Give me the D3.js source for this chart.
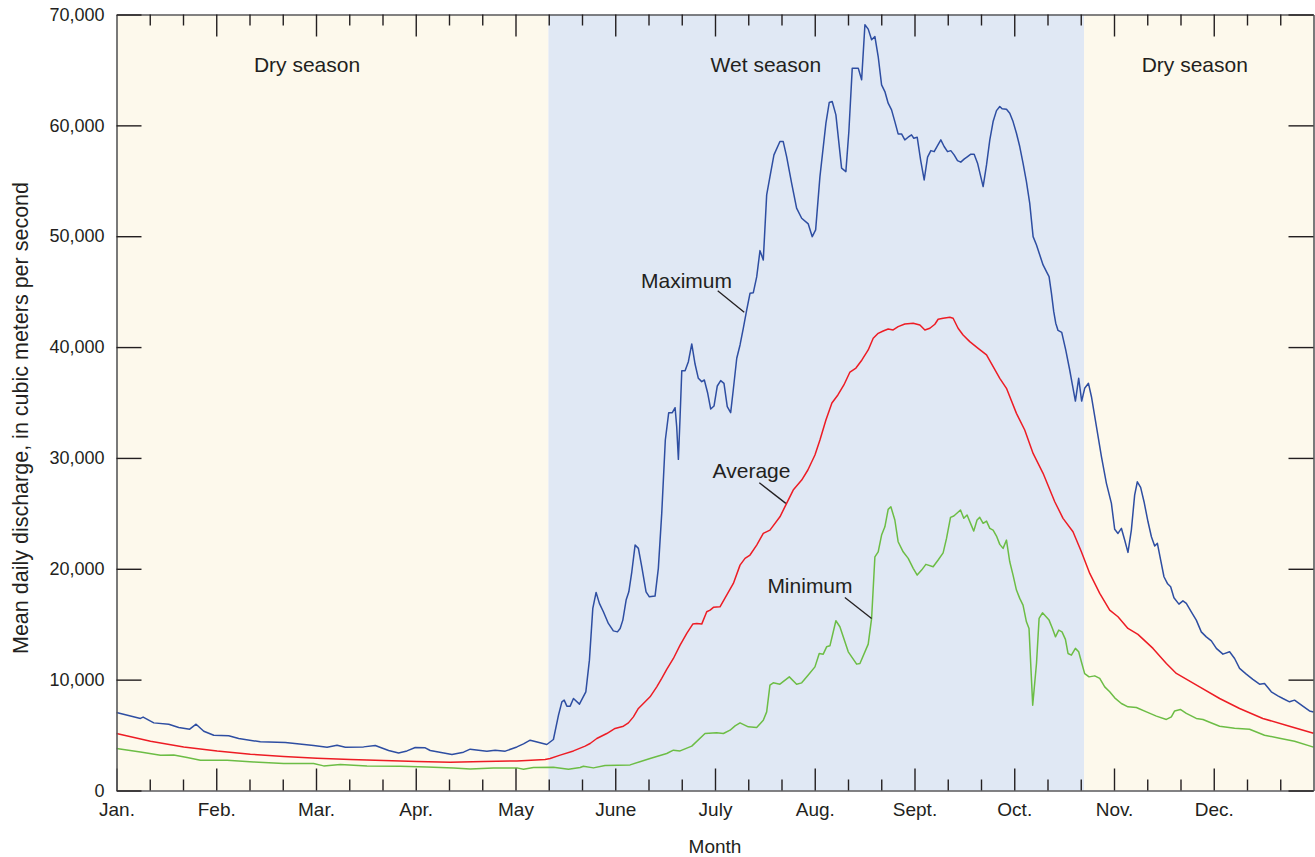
<!DOCTYPE html>
<html><head><meta charset="utf-8">
<script src="https://cdn.jsdelivr.net/npm/d3@7"></script>
<style>
body{margin:0;background:#fff;}
svg text{font-family:"Liberation Sans",Arial,"Helvetica",sans-serif;fill:#231f20;}
</style></head><body>
<svg id="chart" width="1315" height="857"></svg>
<script>
// ---- DATA (x = position in the year, in months from Jan. 1; y = cubic meters per second) ----
const monthLabels = ["Jan.","Feb.","Mar.","Apr.","May","June","July","Aug.","Sept.","Oct.","Nov.","Dec."];
const yTicks = [0,10000,20000,30000,40000,50000,60000,70000];
const seasonNames = ["Dry season","Wet season","Dry season"];
const seasonBounds = [[0,4.33],[4.33,9.70],[9.70,12]];
const seasonLabelAt = [1.91,6.51,10.81];

const maximum = [[0,7040],[0.240,6500],[0.267,6620],[0.374,6100],[0.524,5980],[0.624,5690],[0.734,5530],[0.798,5980],[0.875,5350],[0.975,4990],[1.125,4930],[1.225,4690],[1.442,4390],[1.693,4330],[1.976,4060],[2.111,3910],[2.211,4090],[2.294,3910],[2.477,3935],[2.594,4060],[2.728,3610],[2.828,3390],[2.912,3570],[2.995,3880],[3.095,3850],[3.145,3610],[3.363,3250],[3.479,3460],[3.546,3730],[3.629,3640],[3.713,3550],[3.796,3640],[3.897,3550],[4.014,3930],[4.080,4210],[4.147,4540],[4.197,4420],[4.314,4150],[4.380,4600],[4.431,6800],[4.465,8000],[4.488,8150],[4.515,7610],[4.548,7610],[4.581,8300],[4.641,7790],[4.705,8900],[4.741,11760],[4.775,16430],[4.808,17870],[4.841,16880],[4.881,16120],[4.931,15070],[4.981,14400],[5.022,14310],[5.049,14620],[5.076,15370],[5.109,17180],[5.136,17920],[5.166,19730],[5.199,22140],[5.232,21840],[5.266,20180],[5.309,17920],[5.342,17470],[5.399,17540],[5.432,20040],[5.466,25000],[5.502,31620],[5.536,34080],[5.572,34080],[5.600,34530],[5.616,32820],[5.633,29870],[5.650,33720],[5.667,37870],[5.700,37870],[5.733,38680],[5.767,40280],[5.800,38470],[5.833,37180],[5.867,36880],[5.893,37030],[5.927,35830],[5.957,34410],[5.990,34680],[6.023,36490],[6.057,36970],[6.090,36730],[6.123,34620],[6.157,34080],[6.183,36130],[6.218,38990],[6.251,40190],[6.284,41700],[6.318,43350],[6.351,44850],[6.384,44910],[6.418,46330],[6.451,48700],[6.484,47860],[6.518,53730],[6.551,55380],[6.591,57340],[6.651,58540],[6.684,58540],[6.718,57180],[6.768,54780],[6.818,52530],[6.869,51620],[6.935,51110],[6.975,49960],[7.009,50570],[7.052,55380],[7.112,60200],[7.145,62060],[7.175,62150],[7.212,60950],[7.269,56140],[7.312,55830],[7.342,59440],[7.376,65160],[7.436,65160],[7.470,64110],[7.503,69070],[7.536,68680],[7.570,67720],[7.603,68010],[7.636,66210],[7.670,63650],[7.703,63050],[7.736,62000],[7.770,61400],[7.803,60340],[7.836,59230],[7.870,59230],[7.903,58690],[7.936,58930],[7.970,59140],[7.993,58840],[8.027,58930],[8.061,56890],[8.097,55080],[8.131,57130],[8.164,57720],[8.197,57630],[8.231,58180],[8.264,58690],[8.297,58090],[8.331,57630],[8.364,57720],[8.397,57340],[8.431,56820],[8.464,56680],[8.497,56950],[8.532,57180],[8.565,57400],[8.598,57400],[8.632,56590],[8.688,54480],[8.722,56430],[8.755,58690],[8.788,60340],[8.822,61330],[8.855,61700],[8.878,61490],[8.922,61460],[8.955,61100],[8.988,60340],[9.022,59290],[9.055,58090],[9.088,56590],[9.122,54930],[9.155,52980],[9.189,49960],[9.223,49210],[9.256,48310],[9.289,47410],[9.323,46800],[9.349,46350],[9.373,44850],[9.396,43190],[9.416,42150],[9.439,41500],[9.476,41330],[9.516,39740],[9.556,37930],[9.583,36580],[9.613,35130],[9.646,37180],[9.676,35130],[9.706,36280],[9.744,36730],[9.774,35520],[9.824,32820],[9.874,30110],[9.924,27710],[9.974,25900],[10.007,23560],[10.040,23190],[10.074,23650],[10.107,22590],[10.140,21480],[10.174,23490],[10.207,26650],[10.234,27850],[10.267,27350],[10.301,26050],[10.341,24240],[10.375,22890],[10.408,22050],[10.435,22290],[10.468,20790],[10.501,19280],[10.535,18680],[10.568,18380],[10.601,17380],[10.651,16810],[10.691,17110],[10.725,16880],[10.775,16120],[10.825,15370],[10.875,14310],[10.925,13860],[10.976,13500],[11.026,12820],[11.092,12300],[11.159,12510],[11.209,11910],[11.259,11010],[11.326,10500],[11.392,10020],[11.459,9590],[11.509,9660],[11.577,8900],[11.643,8540],[11.693,8300],[11.760,8000],[11.810,8150],[11.893,7610],[11.960,7180],[12,7090]];

const average = [[0,5140],[0.341,4450],[0.674,3930],[1.009,3570],[1.342,3280],[1.676,3070],[2.010,2920],[2.344,2800],[2.678,2710],[3.012,2620],[3.346,2550],[3.679,2620],[4.014,2670],[4.297,2800],[4.347,2890],[4.448,3190],[4.581,3570],[4.698,4000],[4.748,4240],[4.815,4690],[4.915,5140],[4.998,5600],[5.082,5800],[5.132,6100],[5.182,6640],[5.232,7400],[5.282,7850],[5.349,8450],[5.416,9350],[5.466,10110],[5.516,10920],[5.583,11910],[5.650,13110],[5.717,14170],[5.777,15010],[5.817,15070],[5.867,15010],[5.917,16120],[5.951,16270],[5.984,16520],[6.050,16570],[6.117,17630],[6.184,18680],[6.251,20330],[6.301,20940],[6.351,21240],[6.418,22140],[6.484,23190],[6.551,23490],[6.651,24690],[6.718,25900],[6.784,27100],[6.869,28000],[6.931,28910],[7.002,30260],[7.052,31620],[7.112,33420],[7.172,34950],[7.232,35680],[7.292,36580],[7.353,37750],[7.413,38110],[7.473,38840],[7.536,39740],[7.586,40790],[7.636,41240],[7.686,41450],[7.736,41630],[7.786,41540],[7.836,41840],[7.903,42080],[7.987,42150],[8.054,41990],[8.104,41540],[8.154,41700],[8.204,42060],[8.237,42510],[8.287,42600],[8.354,42690],[8.387,42600],[8.437,41700],[8.487,41090],[8.554,40490],[8.638,39890],[8.722,39290],[8.855,37180],[8.922,36280],[9.022,34020],[9.105,32520],[9.189,30410],[9.289,28610],[9.406,26050],[9.489,24550],[9.589,23340],[9.673,21530],[9.757,19580],[9.857,17780],[9.957,16270],[10.040,15670],[10.140,14620],[10.240,14080],[10.391,12820],[10.525,11460],[10.625,10560],[10.858,9350],[11.059,8300],[11.259,7400],[11.492,6500],[11.759,5800],[12,5170]];

const minimum = [[0,3790],[0.240,3480],[0.441,3190],[0.574,3210],[0.708,2980],[0.841,2730],[1.109,2730],[1.375,2580],[1.676,2440],[1.976,2440],[2.077,2220],[2.244,2350],[2.511,2220],[2.845,2190],[3.112,2130],[3.379,2040],[3.546,1950],[3.779,2040],[4.014,2040],[4.080,1920],[4.180,2080],[4.380,2100],[4.531,1920],[4.648,2080],[4.681,2190],[4.781,2040],[4.898,2260],[5.149,2310],[5.349,2890],[5.516,3340],[5.583,3640],[5.650,3570],[5.767,4000],[5.900,5140],[6.017,5200],[6.084,5140],[6.151,5440],[6.201,5830],[6.251,6100],[6.334,5740],[6.418,5690],[6.484,6340],[6.518,7090],[6.551,9500],[6.584,9710],[6.651,9590],[6.745,10250],[6.818,9590],[6.869,9710],[6.935,10410],[7.002,11150],[7.045,12360],[7.085,12300],[7.119,12960],[7.152,13050],[7.212,15310],[7.252,14770],[7.336,12510],[7.420,11400],[7.453,11460],[7.536,13200],[7.570,15520],[7.603,21080],[7.636,21530],[7.670,23040],[7.703,23790],[7.736,25360],[7.763,25600],[7.803,24400],[7.836,22440],[7.886,21530],[7.937,20940],[7.987,20040],[8.027,19430],[8.071,19880],[8.114,20400],[8.187,20180],[8.237,20790],[8.287,21440],[8.321,22740],[8.361,24640],[8.394,24760],[8.461,25300],[8.494,24550],[8.527,24850],[8.594,23400],[8.627,24400],[8.654,24640],[8.688,24100],[8.722,24300],[8.755,23650],[8.788,23490],[8.822,22950],[8.855,22200],[8.888,21840],[8.922,22590],[8.955,20630],[8.988,19430],[9.022,18080],[9.055,17330],[9.088,16720],[9.122,15220],[9.148,14620],[9.185,7700],[9.223,11460],[9.249,15520],[9.283,16030],[9.349,15370],[9.383,14620],[9.413,13860],[9.446,14470],[9.479,14310],[9.513,13630],[9.539,12360],[9.573,12210],[9.613,12820],[9.646,12510],[9.673,11610],[9.706,10540],[9.750,10250],[9.807,10340],[9.857,10110],[9.907,9350],[9.957,8900],[10.007,8360],[10.074,7850],[10.140,7550],[10.224,7490],[10.325,7090],[10.425,6710],[10.525,6410],[10.575,6640],[10.608,7180],[10.665,7310],[10.725,6950],[10.825,6500],[10.892,6410],[10.959,6160],[11.059,5800],[11.209,5620],[11.359,5530],[11.509,4990],[11.659,4720],[11.810,4450],[12,3910]];

// annotation labels: [text, labelX, labelY, leaderFromX, leaderFromY, leaderToX, leaderToY] in data units
const annotations = [
  ["Maximum", 5.714, 45330, 6.027, 45090, 6.293, 43140],
  ["Average", 6.366, 28160, 6.444, 27760, 6.710, 25900],
  ["Minimum", 6.952, 17780, 7.302, 17420, 7.570, 15520]
];

// ---- LAYOUT ----
const plotL = 116.5, plotR = 1313.5, plotT = 14.5, plotB = 790.5;
const svg = d3.select("#chart");
const x = d3.scaleLinear().domain([0, 12]).range([plotL, plotR]);
const y = d3.scaleLinear().domain([0, 70000]).range([plotB, plotT]);

const seasonFill = ["#fdf9ec", "#e0e8f4", "#fdf9ec"];
svg.append("g").selectAll("rect").data(seasonBounds).join("rect")
  .attr("x", d => x(d[0])).attr("width", d => x(d[1]) - x(d[0]))
  .attr("y", plotT).attr("height", plotB - plotT)
  .attr("fill", (d, i) => seasonFill[i]);

svg.append("g").selectAll("text").data(seasonNames).join("text")
  .attr("x", (d, i) => x(seasonLabelAt[i])).attr("y", plotT + 57)
  .attr("text-anchor", "middle").attr("font-size", 21).text(d => d);

// lines
const line = d3.line().x(d => x(d[0])).y(d => y(d[1]));
const series = [[minimum, "#6cbd45"], [average, "#ed1c24"], [maximum, "#2e4ea2"]];
svg.append("g").selectAll("path").data(series).join("path")
  .attr("d", d => line(d[0])).attr("fill", "none")
  .attr("stroke", d => d[1]).attr("stroke-width", 1.5).attr("stroke-linejoin", "round");

// annotations
const ann = svg.append("g");
ann.selectAll("text").data(annotations).join("text")
  .attr("x", d => x(d[1])).attr("y", d => y(d[2]))
  .attr("text-anchor", "middle").attr("font-size", 21).text(d => d[0]);
ann.selectAll("line").data(annotations).join("line")
  .attr("x1", d => x(d[3])).attr("y1", d => y(d[4]))
  .attr("x2", d => x(d[5])).attr("y2", d => y(d[6]))
  .attr("stroke", "#231f20").attr("stroke-width", 1.3);

// axes
const months = d3.range(0, 12);
const minor = d3.range(0, 12).flatMap(m => [m + 1/3, m + 2/3]);
function styleAxis(g, size) {
  g.select(".domain").attr("stroke", "#58595b").attr("stroke-width", 1.6);
  g.selectAll(".tick line").attr("stroke", "#231f20").attr("stroke-width", 1.4);
  g.selectAll(".tick text").attr("font-size", size || 18).attr("fill", "#231f20")
    .style("font-family", '"Liberation Sans",Arial,sans-serif');
}
svg.append("g").attr("transform", `translate(0,${plotB})`)
  .call(d3.axisBottom(x).tickValues(months).tickSize(-22).tickSizeOuter(0).tickPadding(12.5)
    .tickFormat(i => monthLabels[i])).call(styleAxis, 19);
svg.append("g").attr("transform", `translate(0,${plotB})`)
  .call(d3.axisBottom(x).tickValues(minor).tickSize(-11).tickSizeOuter(0).tickFormat(""))
  .call(styleAxis).call(g => g.select(".domain").remove());
svg.append("g").attr("transform", `translate(0,${plotT})`)
  .call(d3.axisTop(x).tickValues(months.slice(1)).tickSize(-22).tickSizeOuter(0).tickFormat(""))
  .call(styleAxis);
svg.append("g").attr("transform", `translate(0,${plotT})`)
  .call(d3.axisTop(x).tickValues(minor).tickSize(-11).tickSizeOuter(0).tickFormat(""))
  .call(styleAxis).call(g => g.select(".domain").remove());
svg.append("g").attr("transform", `translate(${plotL},0)`)
  .call(d3.axisLeft(y).tickValues(yTicks).tickSize(-25).tickSizeOuter(0).tickPadding(12)
    .tickFormat(d3.format(","))).call(styleAxis, 18);
svg.append("g").attr("transform", `translate(${plotR},0)`)
  .call(d3.axisRight(y).tickValues(yTicks).tickSize(-25).tickSizeOuter(0).tickFormat(""))
  .call(styleAxis);

// axis titles
svg.append("text").attr("x", (plotL + plotR) / 2).attr("y", 853)
  .attr("text-anchor", "middle").attr("font-size", 19).text("Month");
svg.append("text").attr("transform", `translate(28,418) rotate(-90)`)
  .attr("text-anchor", "middle").attr("font-size", 21.5)
  .text("Mean daily discharge, in cubic meters per second");
</script>
</body></html>
